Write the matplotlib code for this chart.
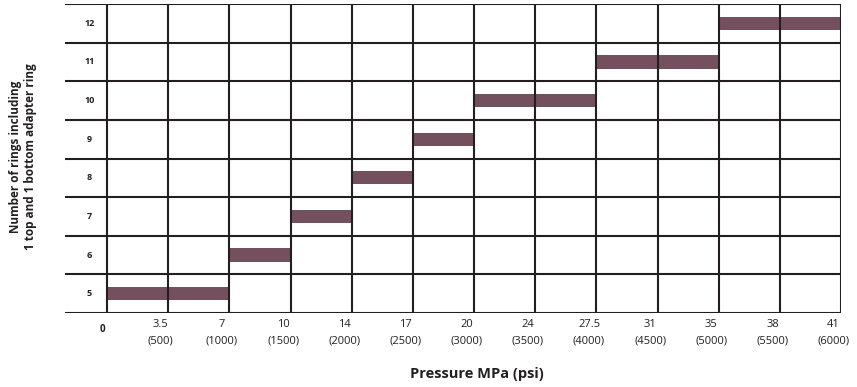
import matplotlib.pyplot as plt
from matplotlib.patches import Rectangle

plt.rcParams['font.family'] = ['Open Sans', 'DejaVu Sans']

# 数据
pressures = ['0', '3.5', '7', '10', '14', '17', '20', '24', '27.5', '31', '35', '38', '41']
psi = ['', '(500)', '(1000)', '(1500)', '(2000)', '(2500)', '(3000)', '(3500)',
       '(4000)', '(4500)', '(5000)', '(5500)', '(6000)']
rings = [5, 6, 7, 8, 9, 10, 11, 12]
p_start = ['0', '7', '10', '14', '17', '20', '27.5', '35']
p_end = ['7', '10', '14', '17', '20', '27.5', '35', '41']

bar_color = '#74505f'
line_color = '#231f20'

fig = plt.figure(figsize=(8.57, 3.87), dpi=100)
ax = fig.add_axes([65 / 857, 1 - 313 / 387, (841 - 65) / 857, (313 - 4) / 387])

n = len(pressures) - 1
ax.set_xlim(-0.687, n)
ax.set_ylim(rings[0] - 0.5, rings[-1] + 0.5)

# 条形
bar_h = 0.34
for r, s, e in zip(rings, p_start, p_end):
    x0 = pressures.index(s)
    x1 = pressures.index(e)
    ax.add_patch(Rectangle((x0, r - bar_h / 2), x1 - x0, bar_h,
                           facecolor=bar_color, edgecolor='none', zorder=1))

# 网格线
for i in range(len(pressures)):
    ax.axvline(i, color=line_color, lw=1.5, zorder=2)
for k in range(len(rings) + 1):
    ax.axhline(rings[0] - 0.5 + k, color=line_color, lw=1.5, zorder=2)

# 行标签
for r in rings:
    ax.text(-0.29, r, str(r), ha='center', va='center', fontsize=6.5,
            fontweight='bold', color='#231f20')

# x轴刻度标签
for i, (p, q) in enumerate(zip(pressures, psi)):
    if i == 0:
        ax.text(i - 0.07, rings[0] - 0.94, p, ha='center', va='center',
                fontsize=7, fontweight='bold', color='#231f20')
    else:
        ax.text(i - 0.12, rings[0] - 0.81, p, ha='center', va='center',
                fontsize=8, color='#231f20')
        ax.text(i - 0.12, rings[0] - 1.22, q, ha='center', va='center',
                fontsize=8, color='#231f20')

for sp in ax.spines.values():
    sp.set_visible(False)
ax.set_xticks([])
ax.set_yticks([])

fig.text(477 / 857, 1 - 374 / 387, 'Pressure MPa (psi)', ha='center', va='center',
         fontsize=10.5, fontweight='bold', color='#231f20')
fig.text(23 / 857, 1 - 157 / 387, 'Number of rings including\n1 top and 1 bottom adapter ring',
         ha='center', va='center', rotation=90, fontsize=8.5, fontweight='bold',
         color='#231f20', linespacing=1.25)

fig.savefig('out.png', dpi=100)
